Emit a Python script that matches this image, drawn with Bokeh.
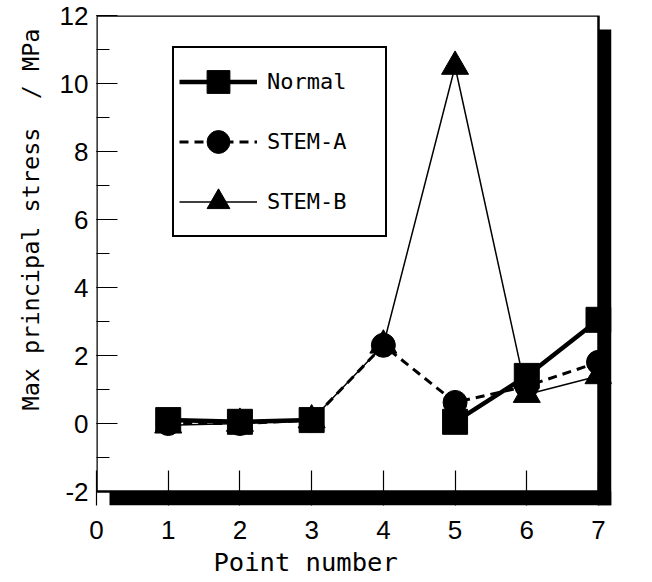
import numpy as np
from bokeh.plotting import figure
from bokeh.models import (Range1d, SingleIntervalTicker, Legend, LegendItem,
                          ColumnDataSource, Title, PrintfTickFormatter)
from bokeh.embed import file_html
from bokeh.resources import INLINE

# ---- data ----
points = [1, 2, 3, 4, 5, 6, 7]
normal = [0.10, 0.05, 0.10, np.nan, 0.05, 1.40, 3.05]
stem_a = [0.00, 0.00, 0.10, 2.30, 0.62, 1.10, 1.80]
stem_b = [-0.05, 0.00, 0.10, 2.30, 10.50, 0.85, 1.40]

x_title = "Point number"
y_title = "Max principal stress\u00a0\u00a0/ MPa"
x_lim = (0, 7)
y_lim = (-2, 12)

TICK_FONT = "Liberation Sans"
TITLE_FONT = "DejaVu Sans Mono"

# ---- geometry (pixels) ----
FRAME_W, FRAME_H = 502, 476       # visible boxed plot area
SHADOW_DX, SHADOW_DY = 13, 14     # drop-shadow offset

px_x = FRAME_W / (x_lim[1] - x_lim[0])
px_y = FRAME_H / (y_lim[1] - y_lim[0])
x_ext = x_lim[1] + SHADOW_DX / px_x
y_ext = y_lim[0] - SHADOW_DY / px_y

p = figure(frame_width=FRAME_W + SHADOW_DX, frame_height=FRAME_H + SHADOW_DY,
           output_backend="svg", toolbar_location=None,
           x_range=Range1d(x_lim[0], x_ext), y_range=Range1d(y_ext, y_lim[1]),
           min_border_left=96, min_border_top=15, min_border_right=26,
           min_border_bottom=75)
p.grid.visible = False
p.background_fill_color = "white"
p.border_fill_color = "white"
p.outline_line_color = None

# axes
for ax in (p.xaxis[0], p.yaxis[0]):
    ax.axis_line_color = None
    ax.major_tick_out = 0
    ax.minor_tick_out = 0
    ax.major_tick_line_color = "black"
    ax.minor_tick_line_color = "black"
    ax.major_tick_line_width = 1.2
    ax.minor_tick_line_width = 1.2
    ax.major_label_text_font = TICK_FONT
    ax.major_label_text_font_size = "26px"
    ax.major_label_text_color = "black"
    ax.formatter = PrintfTickFormatter(format="%d")

p.xaxis.ticker = SingleIntervalTicker(interval=1, num_minor_ticks=0)
p.yaxis.ticker = SingleIntervalTicker(interval=2, num_minor_ticks=2)
p.xaxis.major_tick_in = 21 + SHADOW_DY
p.yaxis.major_tick_in = 21
p.yaxis.minor_tick_in = 13
p.xaxis.major_label_standoff = 15
p.yaxis.major_label_standoff = 8

# axis titles as offset titles
p.add_layout(Title(text=x_title, align="left", offset=117, standoff=7,
                   text_font=TITLE_FONT, text_font_size="25.5px",
                   text_font_style="normal", text_color="black"), "below")
p.add_layout(Title(text=y_title, align="left", offset=95, standoff=23,
                   text_font=TITLE_FONT, text_font_size="23.5px",
                   text_font_style="normal", text_color="black"), "left")

src = ColumnDataSource(dict(x=points, n=normal, a=stem_a, b=stem_b))

lb = p.line("x", "b", source=src, line_color="black", line_width=1.5)
mb = p.scatter("x", "b", source=src, marker="triangle", size=27,
               fill_color="black", line_color="black")
la = p.line("x", "a", source=src, line_color="black", line_width=3,
            line_dash="9 6")
ma = p.scatter("x", "a", source=src, marker="circle", size=24,
               fill_color="black", line_color="black")
ln = p.line("x", "n", source=src, line_color="black", line_width=4.5)
mn = p.scatter("x", "n", source=src, marker="square", size=25,
               fill_color="black", line_color="black")

# drop shadow (right and bottom strips) and the boxed frame
p.quad(left=x_lim[1], right=x_ext, top=y_lim[1] - SHADOW_DY / px_y,
       bottom=y_ext, fill_color="black", line_color=None)
p.quad(left=x_lim[0] + SHADOW_DX / px_x, right=x_ext, top=y_lim[0],
       bottom=y_ext, fill_color="black", line_color=None)
p.quad(left=x_lim[0], right=x_lim[1], top=y_lim[1], bottom=y_lim[0],
       fill_color=None, line_color="black", line_width=2.5)

legend = Legend(items=[
    LegendItem(label="Normal", renderers=[ln, mn]),
    LegendItem(label="STEM-A", renderers=[la, ma]),
    LegendItem(label="STEM-B", renderers=[lb, mb]),
], location=(76, 268))
legend.border_line_color = "black"
legend.border_line_alpha = 1
legend.border_line_width = 2
legend.background_fill_color = "white"
legend.background_fill_alpha = 1
legend.padding = 5
legend.spacing = 3
legend.glyph_width = 78
legend.glyph_height = 57
legend.label_standoff = 10
legend.label_width = 113
legend.label_text_font = TITLE_FONT
legend.label_text_font_size = "22px"
legend.label_text_color = "black"
legend.margin = 0
p.add_layout(legend, "center")

open("out.html", "w").write(file_html(p, INLINE))
